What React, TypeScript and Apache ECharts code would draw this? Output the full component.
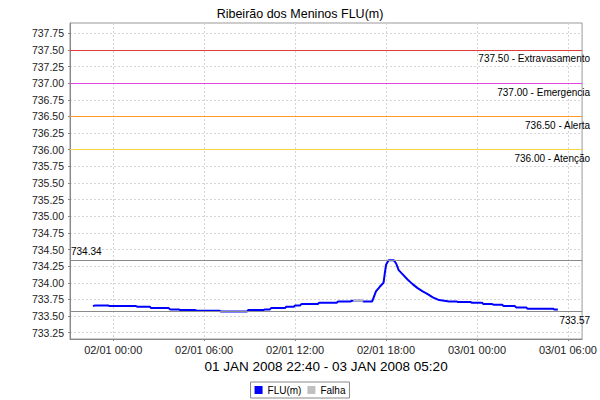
import React, { useEffect, useRef } from "react";
import * as echarts from "echarts";

const chartTitle = "Ribeirão dos Meninos FLU(m)";
const periodLabel = "01 JAN 2008 22:40 - 03 JAN 2008 05:20";
const levelSeriesName = "FLU(m)";
const failSeriesName = "Falha";

const readingTimes = [
  "2008-01-01 22:40", "2008-01-01 22:50", "2008-01-01 23:40", "2008-01-01 23:45",
  "2008-01-02 01:30", "2008-01-02 01:35", "2008-01-02 02:25", "2008-01-02 02:30",
  "2008-01-02 03:40", "2008-01-02 03:45", "2008-01-02 04:20", "2008-01-02 04:25",
  "2008-01-02 05:25", "2008-01-02 05:30", "2008-01-02 07:00", "2008-01-02 07:05",
  "2008-01-02 08:50", "2008-01-02 08:55", "2008-01-02 09:55", "2008-01-02 10:00",
  "2008-01-02 10:20", "2008-01-02 10:25", "2008-01-02 11:20", "2008-01-02 11:25",
  "2008-01-02 11:55", "2008-01-02 12:00", "2008-01-02 12:20", "2008-01-02 12:25",
  "2008-01-02 13:30", "2008-01-02 13:35", "2008-01-02 14:45", "2008-01-02 14:50",
  "2008-01-02 15:40", "2008-01-02 15:45", "2008-01-02 16:25", "2008-01-02 16:30",
  "2008-01-02 17:05", "2008-01-02 17:10", "2008-01-02 17:20", "2008-01-02 17:35",
  "2008-01-02 17:50", "2008-01-02 17:55", "2008-01-02 18:00", "2008-01-02 18:10",
  "2008-01-02 18:30", "2008-01-02 18:40", "2008-01-02 18:50", "2008-01-02 19:05",
  "2008-01-02 19:25", "2008-01-02 19:45", "2008-01-02 20:05", "2008-01-02 20:25",
  "2008-01-02 20:45", "2008-01-02 21:05", "2008-01-02 21:30", "2008-01-02 21:50",
  "2008-01-02 22:10", "2008-01-02 22:40", "2008-01-02 22:45", "2008-01-02 23:35",
  "2008-01-02 23:40", "2008-01-03 00:20", "2008-01-03 00:25", "2008-01-03 01:00",
  "2008-01-03 01:05", "2008-01-03 01:40", "2008-01-03 01:45", "2008-01-03 02:30",
  "2008-01-03 02:35", "2008-01-03 03:15", "2008-01-03 03:20", "2008-01-03 05:00",
  "2008-01-03 05:05", "2008-01-03 05:20",
];
const readingLevels = [
  733.65, 733.66, 733.66, 733.65,
  733.65, 733.64, 733.64, 733.62,
  733.62, 733.60, 733.60, 733.59,
  733.59, 733.58, 733.58, 733.57,
  733.57, 733.59, 733.59, 733.60,
  733.60, 733.62, 733.62, 733.64,
  733.64, 733.66, 733.66, 733.68,
  733.68, 733.70, 733.70, 733.72,
  733.72, 733.73, 733.73, 733.72,
  733.72, 733.77, 733.87, 733.94,
  734.00, 734.14, 734.27, 734.34,
  734.34, 734.29, 734.19, 734.13,
  734.05, 733.98, 733.92, 733.87,
  733.83, 733.78, 733.74, 733.73,
  733.72, 733.72, 733.71, 733.71,
  733.70, 733.70, 733.68, 733.68,
  733.67, 733.67, 733.65, 733.65,
  733.63, 733.63, 733.61, 733.61,
  733.60, 733.60,
];

const failTimes = ["2008-01-02 15:50", "2008-01-02 16:30"];
const failLevels = [733.73, 733.73];

const thresholdValues = [737.5, 737.0, 736.5, 736.0];
const thresholdNames = ["Extravasamento", "Emergencia", "Alerta", "Atenção"];
const thresholdColors = ["#e23c3c", "#e046e0", "#ff9a2a", "#f3d640"];

const yTickValues = [
  733.25, 733.5, 733.75, 734.0, 734.25, 734.5, 734.75, 735.0, 735.25, 735.5,
  735.75, 736.0, 736.25, 736.5, 736.75, 737.0, 737.25, 737.5, 737.75,
];
const xTickTimes = [
  "2008-01-02 00:00", "2008-01-02 06:00", "2008-01-02 12:00",
  "2008-01-02 18:00", "2008-01-03 00:00", "2008-01-03 06:00",
];
const yRange = [733.155, 737.905];
const xRange = ["2008-01-01 21:09", "2008-01-03 06:56"];

function toMs(s: string): number {
  const [d, t] = s.split(" ");
  const [Y, M, D] = d.split("-").map(Number);
  const [h, m] = t.split(":").map(Number);
  return Date.UTC(Y, M - 1, D, h, m);
}
const pad = (n: number) => (n < 10 ? "0" + n : "" + n);
function fmtTime(v: number): string {
  const d = new Date(v);
  return `${pad(d.getUTCDate())}/${pad(d.getUTCMonth() + 1)} ${pad(d.getUTCHours())}:${pad(d.getUTCMinutes())}`;
}

const FONT = "Liberation Sans";

export default function App() {
  const ref = useRef<HTMLDivElement>(null);
  useEffect(() => {
    if (!ref.current) return;
    const chart = echarts.init(ref.current, null, { renderer: "svg" });
    const levelData = readingTimes.map((t, i) => [toMs(t), readingLevels[i]]);
    const failData = failTimes.map((t, i) => [toMs(t), failLevels[i]]);
    const maxV = Math.max(...readingLevels);
    const minV = Math.min(...readingLevels);
    const labelBase = { color: "#000", fontSize: 10, fontFamily: FONT };
    chart.setOption({
      animation: false,
      backgroundColor: "#fff",
      textStyle: { fontFamily: FONT },
      title: {
        text: chartTitle,
        left: "center",
        top: 2,
        textStyle: { fontSize: 12.5, fontWeight: "normal", color: "#000", fontFamily: FONT },
      },
      legend: {
        bottom: 2,
        left: "center",
        data: [levelSeriesName, failSeriesName],
        icon: "rect",
        itemWidth: 8,
        itemHeight: 8,
        itemGap: 6,
        padding: [3, 4],
        borderColor: "#888",
        borderWidth: 1,
        textStyle: { fontSize: 10, color: "#000", fontFamily: FONT },
      },
      grid: { left: 70, right: 7, top: 23, bottom: 61, show: true, borderColor: "#999", borderWidth: 1 },
      xAxis: {
        type: "value",
        min: toMs(xRange[0]),
        max: toMs(xRange[1]),
        name: periodLabel,
        nameLocation: "middle",
        nameGap: 18,
        nameTextStyle: { fontSize: 13.5, color: "#000", fontFamily: FONT },
        axisLine: { show: true, lineStyle: { color: "#888" } },
        axisTick: { show: true, length: 2, customValues: xTickTimes.map(toMs), lineStyle: { color: "#888" } },
        axisLabel: {
          customValues: xTickTimes.map(toMs),
          formatter: (v: number) => fmtTime(v),
          fontSize: 11,
          color: "#222",
          margin: 5,
          fontFamily: FONT,
        },
        splitLine: { show: true, lineStyle: { color: "#d6d6d6", type: [2, 2] } },
      },
      yAxis: {
        type: "value",
        min: yRange[0],
        max: yRange[1],
        axisLine: { show: true, lineStyle: { color: "#888" } },
        axisTick: { show: true, length: 2, customValues: yTickValues, lineStyle: { color: "#888" } },
        axisLabel: {
          customValues: yTickValues,
          formatter: (v: number) => v.toFixed(2),
          fontSize: 10.5,
          color: "#222",
          margin: 6,
          fontFamily: FONT,
        },
        splitLine: { show: true, lineStyle: { color: "#d6d6d6", type: [2, 2] } },
      },
      series: [
        {
          name: levelSeriesName,
          type: "line",
          data: levelData,
          showSymbol: false,
          symbol: "none",
          color: "#0000ff",
          lineStyle: { width: 2, color: "#0000ff" },
          z: 3,
          markLine: {
            silent: true,
            symbol: ["none", "none"],
            animation: false,
            data: [
              ...thresholdValues.map((v, i) => ({
                yAxis: v,
                lineStyle: { color: thresholdColors[i], width: 1, type: "solid" },
                label: {
                  ...labelBase,
                  distance: [-8, 4],
                  position: "insideEndBottom",
                  formatter: `${v.toFixed(2)} - ${thresholdNames[i]}`,
                },
              })),
              {
                yAxis: maxV,
                lineStyle: { color: "#8a8a8a", width: 1, type: "solid" },
                label: { ...labelBase, distance: [1, 4], position: "insideStartTop", formatter: maxV.toFixed(2) },
              },
              {
                yAxis: minV,
                lineStyle: { color: "#8a8a8a", width: 1, type: "solid" },
                label: { ...labelBase, distance: [-8, 4], position: "insideEndBottom", formatter: minV.toFixed(2) },
              },
            ],
          },
        },
        {
          name: failSeriesName,
          type: "line",
          data: failData,
          showSymbol: false,
          symbol: "none",
          color: "#c0c0c0",
          lineStyle: { width: 2, color: "#bdbdbd" },
          z: 4,
        },
      ],
    });
    return () => chart.dispose();
  }, []);
  return <div ref={ref} style={{ width: 600, height: 400, position: "absolute", left: 0, top: 0 }} />;
}
